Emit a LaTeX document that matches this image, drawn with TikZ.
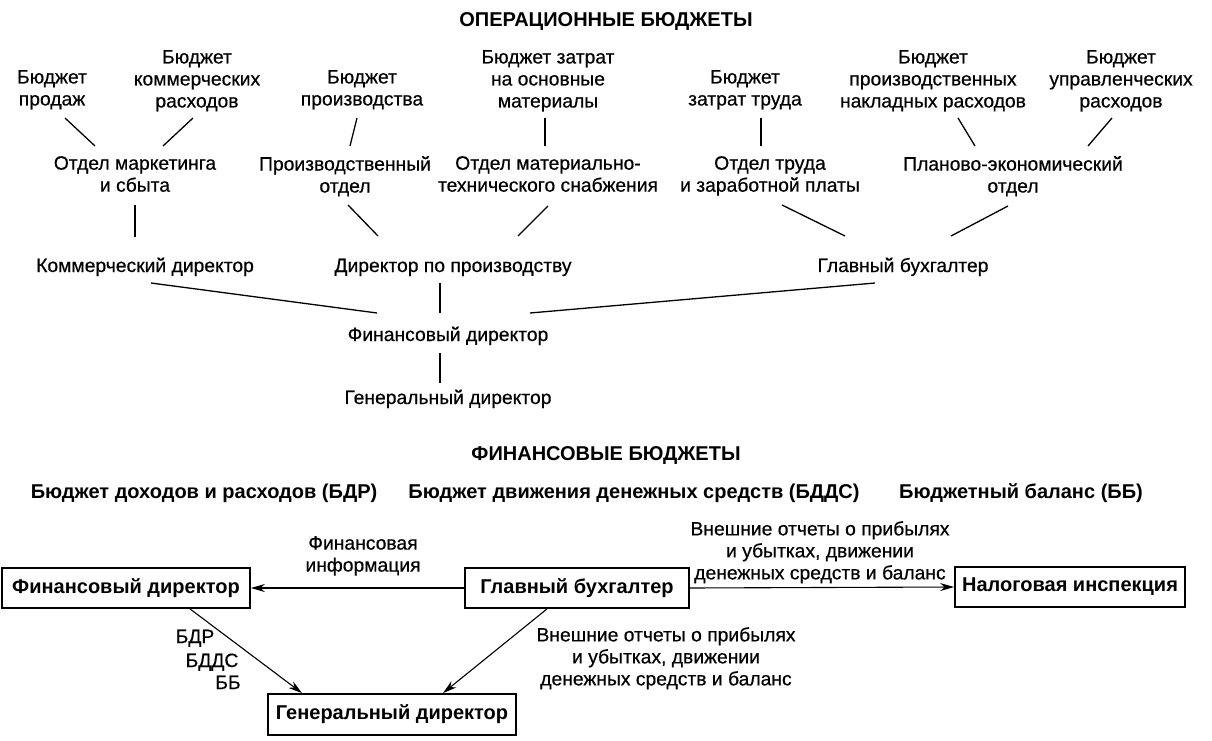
\documentclass[tikz,border=0pt]{standalone}
\usepackage{fontspec}
\setmainfont{Liberation Sans}
\newfontfamily\regfont{Liberation Sans}[FakeBold=0.5]
\usetikzlibrary{arrows.meta,calc}
\begin{document}
\begin{tikzpicture}[x=1pt,y=-1pt,
  t/.style={align=center,inner sep=0pt,font=\regfont\fontsize{19.3}{22}\selectfont},
  tn/.style={t,anchor=north},
  tb/.style={t,anchor=base},
  bt/.style={inner sep=0pt,anchor=base,font=\fontsize{20}{22}\selectfont\bfseries},
  box/.style={draw,line width=1.8pt,inner sep=0pt,font=\fontsize{20}{22}\selectfont\bfseries,minimum height=40pt},
  ln/.style={line width=1.3pt},
  arr/.style={line width=1.1pt,-{Stealth[length=14pt,width=8pt]}}]
\useasboundingbox (0,0) rectangle (1212,741);

% ---- titles
\node[bt] (t1) at (606,27) {ОПЕРАЦИОННЫЕ БЮДЖЕТЫ};
\node[bt] (t2) at (606,460) {ФИНАНСОВЫЕ БЮДЖЕТЫ};

% ---- budgets row
\node[tn] (b1) at (52,70)  {Бюджет\\продаж};
\node[tn] (b2) at (197,50) {Бюджет\\коммерческих\\расходов};
\node[tn] (b3) at (362,70) {Бюджет\\производства};
\node[tn] (b4) at (548,50) {Бюджет затрат\\на основные\\материалы};
\node[tn] (b5) at (745,70) {Бюджет\\затрат труда};
\node[tn] (b6) at (933,50) {Бюджет\\производственных\\накладных расходов};
\node[tn] (b7) at (1121,50){Бюджет\\управленческих\\расходов};

% ---- departments row
\node[tn] (d1) at (135,156)  {Отдел маркетинга\\и сбыта};
\node[tn] (d2) at (345,156)  {Производственный\\отдел};
\node[tn] (d3) at (548,156)  {Отдел материально-\\технического снабжения};
\node[tn] (d4) at (770,156)  {Отдел труда\\и заработной платы};
\node[tn] (d5) at (1013,156) {Планово-экономический\\отдел};

% ---- directors
\node[tb] (c1) at (145,272) {Коммерческий директор};
\node[tb] (c2) at (453,272) {Директор по производству};
\node[tb] (c3) at (903,272) {Главный бухгалтер};
\node[tb] (fd0) at (448,341) {Финансовый директор};
\node[tb] (gd0) at (448,404) {Генеральный директор};

% ---- connector end points
\coordinate (b1s) at (65,118);   \coordinate (d1a) at (95,146);
\coordinate (b2s) at (193,118);  \coordinate (d1b) at (163,146);
\coordinate (b3s) at (357,118);  \coordinate (d2n) at (350,146);
\coordinate (b4s) at (545,118);  \coordinate (d3n) at (545,146);
\coordinate (b5s) at (761,118);  \coordinate (d4n) at (761,146);
\coordinate (b6s) at (958,118);  \coordinate (d5a) at (975,146);
\coordinate (b7s) at (1112,118); \coordinate (d5b) at (1088,146);

\coordinate (d1s) at (135,205);  \coordinate (c1n) at (135,237);
\coordinate (d2s) at (348,205);  \coordinate (c2a) at (378,236);
\coordinate (d3s) at (548,206);  \coordinate (c2b) at (518,236);
\coordinate (d4s) at (782,205);  \coordinate (c3a) at (845,236);
\coordinate (d5s) at (1008,206); \coordinate (c3b) at (951,236);

\coordinate (c1s) at (151,283);  \coordinate (fa) at (377,313);
\coordinate (c2s) at (440,283);  \coordinate (fb) at (440,313);
\coordinate (c3s) at (875,283);  \coordinate (fc) at (530,313);
\coordinate (fs) at (440,353);   \coordinate (gn) at (440,383);

\draw[ln] (b1s) -- (d1a);
\draw[ln] (b2s) -- (d1b);
\draw[ln] (b3s) -- (d2n);
\draw[ln] (b4s) -- (d3n);
\draw[ln] (b5s) -- (d4n);
\draw[ln] (b6s) -- (d5a);
\draw[ln] (b7s) -- (d5b);
\draw[ln] (d1s) -- (c1n);
\draw[ln] (d2s) -- (c2a);
\draw[ln] (d3s) -- (c2b);
\draw[ln] (d4s) -- (c3a);
\draw[ln] (d5s) -- (c3b);
\draw[ln] (c1s) -- (fa);
\draw[ln] (c2s) -- (fb);
\draw[ln] (c3s) -- (fc);
\draw[ln] (fs) -- (gn);

% ---- financial budgets
\node[bt] (fb1) at (204,498) {Бюджет доходов и расходов (БДР)};
\node[bt] (fb2) at (634,498) {Бюджет движения денежных средств (БДДС)};
\node[bt] (fb3) at (1021,498) {Бюджетный баланс (ББ)};

\node[box,minimum width=248pt] (fd) at (126,588) {Финансовый директор};
\node[box,minimum width=224pt] (gb) at (577,588) {Главный бухгалтер};
\node[box,minimum width=230pt] (ni) at (1070,587) {Налоговая инспекция};
\node[box,minimum width=248pt,minimum height=41pt] (gd) at (392,714.5) {Генеральный директор};

\draw[arr] (gb.west) -- (fd.east);
\draw[arr] (gb.east) -- (ni.west);
\draw[arr] ([xshift=64pt]fd.south) -- ([xshift=-90pt]gd.north);
\draw[arr] ([xshift=-30pt]gb.south) -- ([xshift=51pt]gd.north);

\node[tn] (l1) at (363,536) {Финансовая\\информация};
\node[tn] (l2) at (820,521) {Внешние отчеты о прибылях\\и убытках, движении\\денежных средств и баланс};
\node[tb] (l3a) at (195,643) {БДР};
\node[tb] (l3b) at (212,667) {БДДС};
\node[tb] (l3c) at (228,689) {ББ};
\node[tn] (l4) at (666,627) {Внешние отчеты о прибылях\\и убытках, движении\\денежных средств и баланс};
\end{tikzpicture}
\end{document}
